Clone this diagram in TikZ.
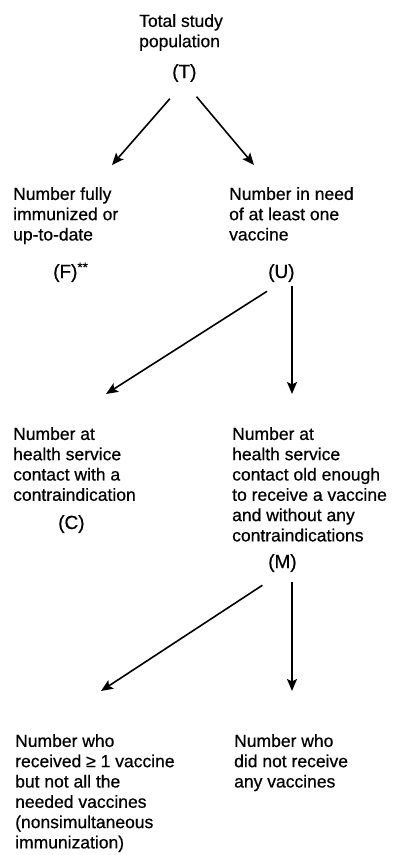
\documentclass[tikz,border=0pt]{standalone}
\usepackage{fontspec}
\setmainfont{Liberation Sans}[FakeBold=0.6]
\usetikzlibrary{arrows.meta}
\begin{document}
\begin{tikzpicture}[x=1pt, y=-1pt,
  txt/.style={anchor=north west, inner sep=0pt, align=left, font=\fontsize{17.5}{20.3}\selectfont},
  lbl/.style={anchor=base west, inner sep=0pt, font=\fontsize{19}{22}\selectfont},
  arr/.style={-{Stealth[length=12pt, width=10pt, inset=2.5pt]}, line width=1.6pt}]
\useasboundingbox (0,0) rectangle (404,855);
% text of the boxes
\node[txt] (tot) at (139,14) {Total study\\population};
\node[txt] (full) at (13,187) {Number fully\\immunized or\\up-to-date};
\node[txt] (need) at (229,187) {Number in need\\of at least one\\vaccine};
\node[txt] (contra) at (13,427) {Number at\\health service\\contact with a\\contraindication};
\node[txt] (miss) at (232,427) {Number at\\health service\\contact old enough\\to receive a vaccine\\and without any\\contraindications};
\node[txt] (nonsim) at (15,734) {Number who\\received ≥ 1 vaccine\\but not all the\\needed vaccines\\(nonsimultaneous\\immunization)};
\node[txt] (none) at (234,734) {Number who\\did not receive\\any vaccines};
% letters
\node[lbl] (T) at (172,78) {(T)};
\node[lbl] (F) at (53,278) {(F)\textsuperscript{**}};
\node[lbl] (U) at (268,278) {(U)};
\node[lbl] (C) at (58,529) {(C)};
\node[lbl] (M) at (268,568) {(M)};
% arrow ends
\coordinate (tf) at (112,165);
\coordinate (tu) at (254,165);
\coordinate (uc) at (106,394);
\coordinate (um) at (292,394);
\coordinate (ml) at (101,691);
\coordinate (mr) at (292,691);
\draw[arr, shorten <=22pt] (T.south) -- (tf);
\draw[arr, shorten <=19pt] (T.south) -- (tu);
\draw[arr, shorten <=17pt] (U.south) -- (uc);
\draw[arr, shorten <=4pt] (U.south -| um) -- (um);
\draw[arr, shorten <=24pt] (M.south) -- (ml);
\draw[arr, shorten <=10pt] (M.south -| mr) -- (mr);
\end{tikzpicture}
\end{document}
